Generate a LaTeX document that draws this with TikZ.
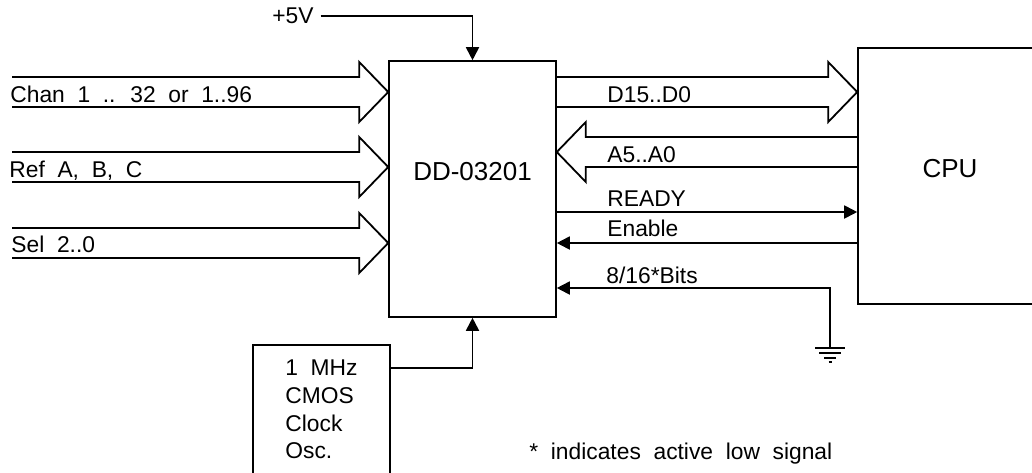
\documentclass[tikz,border=0pt]{standalone}
\usepackage{fontspec}
\setmainfont{Liberation Sans}[WordSpace=2]
\usetikzlibrary{calc,arrows.meta}

% wide bus arrow: #1 open end, #2 tip
\newcommand{\busarrow}[2]{%
  \draw[bus] ($(#1)+(0,-15)$) -- ($(#2)!14.5pt!(#1)+(0,-15)$) -- ($(#2)!14.5pt!(#1)+(0,-30)$) -- (#2)
    -- ($(#2)!14.5pt!(#1)+(0,30)$) -- ($(#2)!14.5pt!(#1)+(0,15)$) -- ($(#1)+(0,15)$);}

\begin{document}
\begin{tikzpicture}[x=0.5pt,y=-0.5pt,
    box/.style={draw,line width=0.8pt,inner sep=0pt,font=\fontsize{13}{15}\selectfont},
    lbl/.style={inner sep=0pt,anchor=base west,font=\fontsize{11.4}{13.9}\selectfont},
    sig/.style={line width=0.9pt,-{Triangle[length=6.5pt,width=6.5pt]}},
    bus/.style={line width=0.9pt,line join=miter}]
  \clip (0,0) rectangle (1032,472);

  \node[box,minimum width=83.5pt,minimum height=128pt,text depth=18pt] (dd) at (472.5,189) {DD-03201};
  \node[box,minimum width=92pt,minimum height=128pt,text depth=8pt] (cpu) at (950,176) {CPU};
  \node[box,align=left,minimum width=68.5pt,minimum height=64.5pt,
        font=\fontsize{11.4}{13.85}\selectfont] (clk) at (321.5,409.5) {1 MHz\\CMOS\\Clock\\Osc.};
  \node[font=\fontsize{11.4}{13.9}\selectfont] (vcc) at (293,16) {+5V};
  \coordinate (gnd) at (830,348);

  % rows
  \coordinate (chan) at (12,92);
  \coordinate (ref) at (12,167);
  \coordinate (sel) at (12,243);
  \coordinate (arow) at (0,152);
  \coordinate (ready) at (0,212);
  \coordinate (enable) at (0,243);
  \coordinate (bits) at (0,288);

  \coordinate (chantip) at (dd.west |- chan);
  \coordinate (reftip) at (dd.west |- ref);
  \coordinate (seltip) at (dd.west |- sel);
  \coordinate (dstart) at (dd.east |- chan);
  \coordinate (dtip) at (cpu.west |- chan);
  \coordinate (astart) at (cpu.west |- arow);
  \coordinate (atip) at (dd.east |- arow);

  \busarrow{chan}{chantip}
  \busarrow{ref}{reftip}
  \busarrow{sel}{seltip}
  \busarrow{dstart}{dtip}
  \busarrow{astart}{atip}

  \draw[sig] (vcc.east) -| (dd.north);
  \draw[sig] ($(clk.north east)+(0,24)$) -| (dd.south);
  \draw[sig] (dd.east |- ready) -- (cpu.west |- ready);
  \draw[sig] (cpu.west |- enable) -- (dd.east |- enable);
  \draw[sig] (gnd) |- (dd.east |- bits);

  % ground
  \draw[line width=0.9pt]
    ($(gnd)+(-15,0)$) -- ($(gnd)+(15,0)$)
    ($(gnd)+(-11,5)$) -- ($(gnd)+(11,5)$)
    ($(gnd)+(-6,10)$) -- ($(gnd)+(6,10)$)
    ($(gnd)+(-1.5,14)$) -- ($(gnd)+(1.5,14)$);

  \node[lbl] (chanlbl) at (10,102) {Chan 1 .. 32 or 1..96};
  \node[lbl] (reflbl) at (9,177) {Ref A, B, C};
  \node[lbl] (sellbl) at (11,252) {Sel 2..0};
  \node[lbl] (dlbl) at (607,102) {D15..D0};
  \node[lbl] (albl) at (607,162) {A5..A0};
  \node[lbl] (readylbl) at (607,206) {READY};
  \node[lbl] (enablelbl) at (607,236) {Enable};
  \node[lbl] (bitslbl) at (606,283) {8/16*Bits};
  \node[lbl] (note) at (529,459) {* indicates active low signal};
\end{tikzpicture}
\end{document}
